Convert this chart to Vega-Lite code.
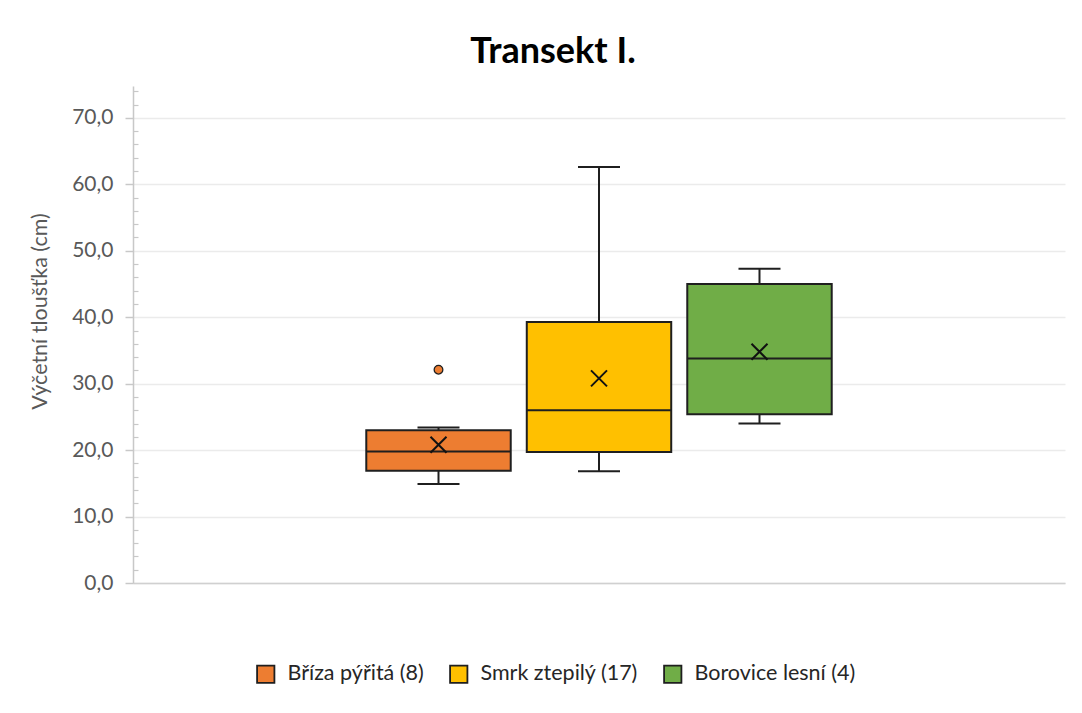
{
  "$schema": "https://vega.github.io/schema/vega-lite/v6.json",
  "width": 932,
  "height": 497,
  "autosize": {"type": "none"},
  "padding": {"left": 133, "top": 86, "right": 17, "bottom": 130},
  "background": "white",
  "title": {
    "text": "Transekt I.",
    "font": "Lato",
    "fontSize": 36,
    "fontWeight": "bold",
    "color": "#000000",
    "anchor": "middle",
    "dx": -46,
    "offset": 15
  },
  "datasets": {
    "boxes": [
      {"serie": "Bříza pýřitá (8)", "min": 14.9, "q1": 16.9, "median": 19.8, "q3": 23.0, "max": 23.4, "mean": 20.8},
      {"serie": "Smrk ztepilý (17)", "min": 16.8, "q1": 19.7, "median": 26.0, "q3": 39.3, "max": 62.6, "mean": 30.8},
      {"serie": "Borovice lesní (4)", "min": 24.0, "q1": 25.4, "median": 33.8, "q3": 45.0, "max": 47.3, "mean": 34.8}
    ],
    "outliers": [
      {"serie": "Bříza pýřitá (8)", "value": 32.1}
    ]
  },
  "encoding": {
    "x": {
      "field": "serie",
      "type": "nominal",
      "sort": null,
      "scale": {"domain": ["_left", "Bříza pýřitá (8)", "Smrk ztepilý (17)", "Borovice lesní (4)", "_right"], "paddingInner": 0.1, "paddingOuter": 0.4535},
      "axis": {"labels": false, "ticks": false, "title": null, "domainColor": "#D0D0D0", "domainWidth": 1.5, "grid": false}
    }
  },
  "layer": [
    {
      "data": {"name": "boxes"},
      "layer": [
        {
          "mark": {"type": "rule", "color": "#1f1f1f", "strokeWidth": 2, "opacity": 1},
          "encoding": {
            "y": {
              "field": "min",
              "type": "quantitative",
              "scale": {"domain": [0, 74.8], "nice": false, "zero": false},
              "axis": {
                "title": "Výčetní tloušťka (cm)",
                "titleFont": "Lato",
                "titleFontSize": 21.5,
                "titleFontWeight": "normal",
                "titleColor": "#595959",
                "titleAngle": 270,
                "titleAlign": "center",
                "titleBaseline": "middle",
                "titleX": -93,
                "titleY": 225,
                "values": [0, 10, 20, 30, 40, 50, 60, 70],
                "labelExpr": "replace(format(datum.value, '.1f'), '.', ',')",
                "labelFont": "Lato",
                "labelFontSize": 21,
                "labelColor": "#595959",
                "labelPadding": 12,
                "tickSize": 8,
                "tickColor": "#C8C8C8",
                "tickWidth": 1.5,
                "domainColor": "#C8C8C8",
                "domainWidth": 1.5,
                "grid": true,
                "gridColor": "#EBEBEB",
                "gridWidth": 1.3
              }
            },
            "y2": {"field": "max"}
          }
        },
        {
          "mark": {"type": "bar", "stroke": "#1f1f1f", "strokeWidth": 2, "opacity": 1},
          "encoding": {
            "y": {"field": "q1", "type": "quantitative"},
            "y2": {"field": "q3"},
            "color": {
              "field": "serie",
              "type": "nominal",
              "scale": {"domain": ["Bříza pýřitá (8)", "Smrk ztepilý (17)", "Borovice lesní (4)"], "range": ["#ED7D31", "#FFC000", "#70AD47"]},
              "legend": {
                "title": null,
                "orient": "none",
                "direction": "horizontal",
                "legendX": 122,
                "legendY": 577,
                "symbolType": "square",
                "symbolSize": 300,
                "symbolStrokeColor": "#1f1f1f",
                "symbolStrokeWidth": 1.8,
                "symbolFillOpacity": 1,
                "labelFont": "Lato",
                "labelFontSize": 21.5,
                "labelColor": "#262626",
                "labelOffset": 11,
                "labelLimit": 400,
                "columnPadding": 22
              }
            }
          }
        },
        {
          "mark": {"type": "tick", "color": "#1f1f1f", "size": 42, "thickness": 2, "opacity": 1},
          "encoding": {"y": {"field": "min", "type": "quantitative"}}
        },
        {
          "mark": {"type": "tick", "color": "#1f1f1f", "size": 42, "thickness": 2, "opacity": 1},
          "encoding": {"y": {"field": "max", "type": "quantitative"}}
        },
        {
          "mark": {"type": "tick", "color": "#1f1f1f", "size": 144, "thickness": 2, "opacity": 1},
          "encoding": {"y": {"field": "median", "type": "quantitative"}}
        },
        {
          "mark": {"type": "point", "shape": "M-1,-1L1,1M-1,1L1,-1", "filled": false, "stroke": "#111111", "strokeWidth": 2, "size": 256, "opacity": 1},
          "encoding": {"y": {"field": "mean", "type": "quantitative"}}
        }
      ]
    },
    {
      "data": {"name": "outliers"},
      "mark": {"type": "point", "shape": "circle", "filled": true, "fill": "#ED7D31", "stroke": "#1f1f1f", "strokeWidth": 1.3, "size": 75, "opacity": 1},
      "encoding": {
        "y": {
          "field": "value",
          "type": "quantitative",
          "axis": {
            "orient": "left",
            "title": null,
            "labels": false,
            "grid": false,
            "domain": false,
            "values": [2, 4, 6, 8, 12, 14, 16, 18, 22, 24, 26, 28, 32, 34, 36, 38, 42, 44, 46, 48, 52, 54, 56, 58, 62, 64, 66, 68, 72, 74],
            "tickSize": -5,
            "tickColor": "#C8C8C8",
            "tickWidth": 1.2
          }
        }
      }
    }
  ],
  "resolve": {"axis": {"y": "independent"}},
  "config": {
    "view": {"stroke": null}
  }
}
